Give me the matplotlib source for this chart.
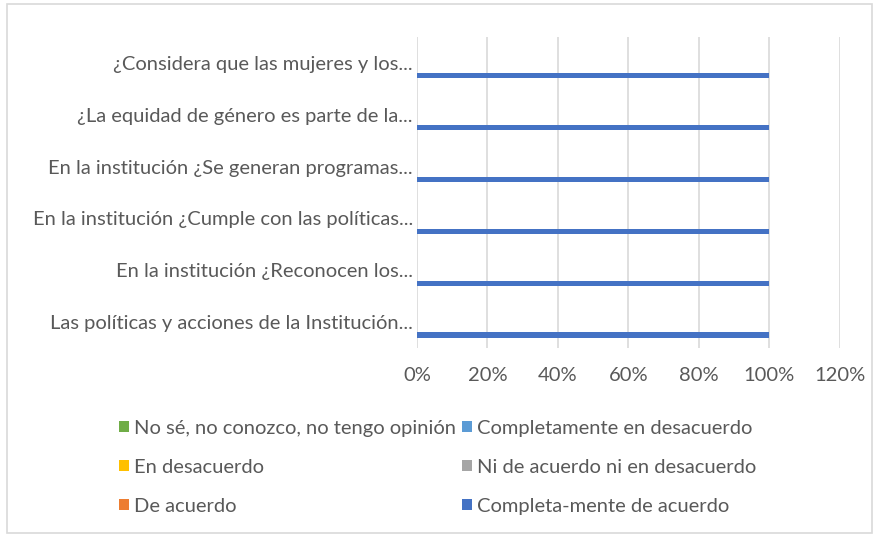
import numpy as np
import matplotlib.pyplot as plt
from matplotlib.patches import Rectangle
from matplotlib.ticker import PercentFormatter

# questions, bottom to top as drawn
questions = [
    'Las políticas y acciones de la Institución...',
    'En la institución ¿Reconocen los...',
    'En la institución ¿Cumple con las políticas...',
    'En la institución ¿Se generan programas...',
    '¿La equidad de género es parte de la...',
    '¿Considera que las mujeres y los...',
]

series_names = [
    'Completa-mente de acuerdo',
    'De acuerdo',
    'Ni de acuerdo ni en desacuerdo',
    'En desacuerdo',
    'Completamente en desacuerdo',
    'No sé, no conozco, no tengo opinión',
]
series_colors = ['#4472C4', '#ED7D31', '#A5A5A5', '#FFC000', '#5B9BD5', '#70AD47']

completamente_de_acuerdo = [1.0, 1.0, 1.0, 1.0, 1.0, 1.0]
de_acuerdo = [0, 0, 0, 0, 0, 0]
ni_de_acuerdo = [0, 0, 0, 0, 0, 0]
en_desacuerdo = [0, 0, 0, 0, 0, 0]
completamente_en_desacuerdo = [0, 0, 0, 0, 0, 0]
no_se = [0, 0, 0, 0, 0, 0]
values = [completamente_de_acuerdo, de_acuerdo, ni_de_acuerdo,
          en_desacuerdo, completamente_en_desacuerdo, no_se]

text_color = '#595959'
fs = 14.5
plt.rcParams['font.family'] = ['Lato', 'DejaVu Sans']

fig = plt.figure(figsize=(8.79, 5.36), dpi=100)
ax = fig.add_axes([0.4744, 0.351, 0.4812, 0.580])

y = np.arange(len(questions))
h = 0.1
handles = {}
for i, (name, vals, col) in enumerate(zip(series_names, values, series_colors)):
    b = ax.barh(y + (i - 2.5) * h, vals, height=h, color=col, label=name, zorder=3)
    handles[name] = b

ax.set_xlim(0, 1.2)
ax.set_ylim(-0.5, 5.5)
ax.set_xticks(np.arange(0, 1.21, 0.2))
ax.xaxis.set_major_formatter(PercentFormatter(1.0, decimals=0))
ax.set_yticks(y)
ax.set_yticklabels(questions)
ax.grid(axis='x', color='#d9d9d9', linewidth=1.2, zorder=0)
for s in ax.spines.values():
    s.set_visible(False)
ax.tick_params(axis='both', length=0, colors=text_color, labelsize=fs)
ax.tick_params(axis='x', pad=14)
ax.tick_params(axis='y', pad=3)

legend_order = [
    'No sé, no conozco, no tengo opinión',
    'En desacuerdo',
    'De acuerdo',
    'Completamente en desacuerdo',
    'Ni de acuerdo ni en desacuerdo',
    'Completa-mente de acuerdo',
]
leg = fig.legend([handles[n] for n in legend_order], legend_order,
                 ncol=2, loc='upper left', bbox_to_anchor=(0.124, 0.236),
                 frameon=False, fontsize=fs, labelcolor=text_color,
                 handlelength=0.5, handleheight=0.5, handletextpad=0.25,
                 labelspacing=1.1, columnspacing=0.3, borderpad=0)

# chart border
fig.patches.append(Rectangle((0.008, 0.006), 0.984, 0.986, transform=fig.transFigure,
                             fill=False, edgecolor='#d9d9d9', linewidth=1.2))

fig.savefig('out.png', dpi=100)
